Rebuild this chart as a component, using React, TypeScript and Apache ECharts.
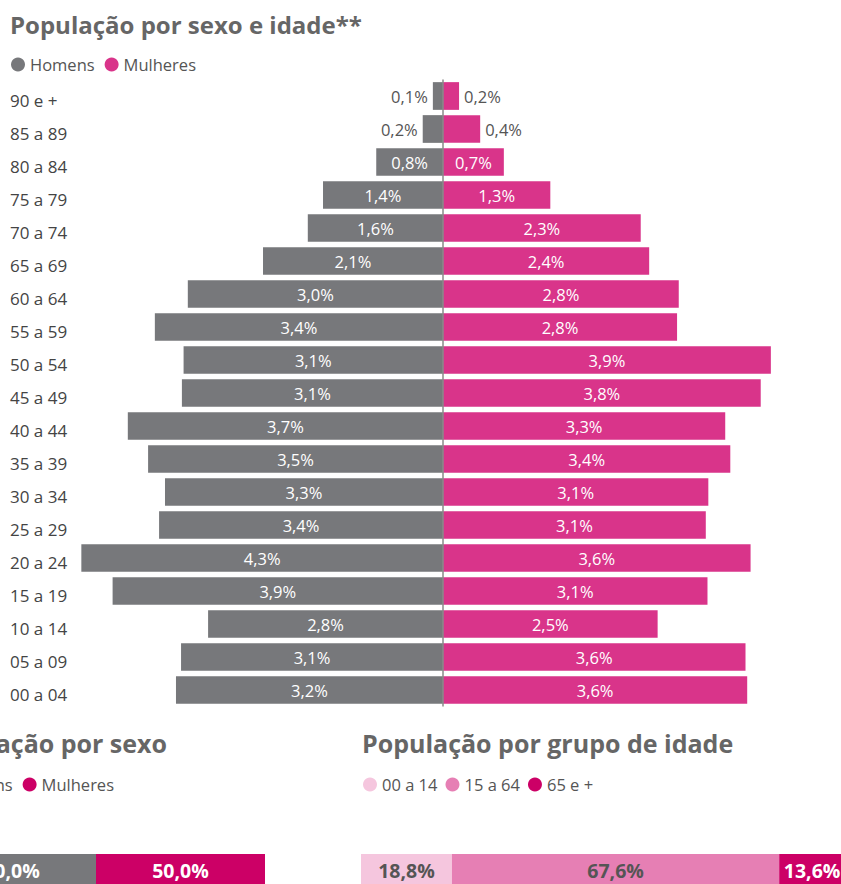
import React, { useEffect, useRef } from "react";
import * as echarts from "echarts";

const ageGroups = [
  "90 e +", "85 a 89", "80 a 84", "75 a 79", "70 a 74", "65 a 69", "60 a 64",
  "55 a 59", "50 a 54", "45 a 49", "40 a 44", "35 a 39", "30 a 34", "25 a 29",
  "20 a 24", "15 a 19", "10 a 14", "05 a 09", "00 a 04",
];
const menValues = [
  0.12, 0.24, 0.79, 1.42, 1.6, 2.13, 3.02, 3.41, 3.07, 3.09, 3.73, 3.49, 3.29,
  3.36, 4.28, 3.91, 2.78, 3.1, 3.16,
];
const womenValues = [
  0.19, 0.44, 0.72, 1.27, 2.34, 2.44, 2.79, 2.77, 3.88, 3.76, 3.34, 3.4, 3.14,
  3.11, 3.64, 3.13, 2.54, 3.58, 3.6,
];
const sexNames = ["Homens", "Mulheres"];
const sexShares = [50.0, 50.0];
const ageBands = ["00 a 14", "15 a 64", "65 e +"];
const ageBandShares = [18.8, 67.6, 13.6];

const FONT = "'Open Sans', 'Noto Sans', sans-serif";
const GRAY = "#77787b";
const PINK = "#d9348a";
const MAGENTA = "#cc0066";
const LIGHT_PINK = "#f5c6de";
const MID_PINK = "#e67fb4";
const TITLE_COLOR = "#666666";
const TEXT_COLOR = "#555555";

const OX = 200; // inner canvas is shifted left by this amount
const W = 1061;
const H = 910;

const fmt = (v: number) => Math.abs(v).toFixed(1).replace(".", ",") + "%";

export default function App() {
  const ref = useRef<HTMLDivElement>(null);

  useEffect(() => {
    document.body.style.margin = "0";
    if (!ref.current) return;
    const chart = echarts.init(ref.current, undefined, { renderer: "svg" });

    const titleStyle = (size: number) => ({
      fontSize: size,
      fontWeight: "bold" as const,
      color: TITLE_COLOR,
      fontFamily: FONT,
    });
    const legendText = { fontSize: 16.5, color: TEXT_COLOR, fontFamily: FONT };

    const pyramidLabel = {
      show: true,
      position: "inside" as const,
      color: "#ffffff",
      fontSize: 16.5,
      fontFamily: FONT,
      formatter: (p: any) => fmt(p.value),
    };

    const menData = menValues.map((v) =>
      v < 0.5
        ? { value: -v, label: { position: "left", color: TEXT_COLOR } }
        : { value: -v }
    );
    const womenData = womenValues.map((v) =>
      v < 0.5
        ? { value: v, label: { position: "right", color: TEXT_COLOR } }
        : { value: v }
    );

    const gridLeft = 262.75;
    const pxPerUnit = 84.5;
    const half = 4.5;
    const gridRight = W - (gridLeft + 2 * half * pxPerUnit);

    const bottomLabel = (color: string) => ({
      show: true,
      position: "inside" as const,
      color,
      fontSize: 19.5,
      fontWeight: "bold" as const,
      fontFamily: FONT,
      formatter: (p: any) => fmt(p.value),
    });

    const sexColors = [GRAY, MAGENTA];
    const ageColors = [LIGHT_PINK, MID_PINK, MAGENTA];
    const ageLabelColors = [TEXT_COLOR, TEXT_COLOR, "#ffffff"];

    const legendBase = {
      icon: "circle",
      itemWidth: 14,
      itemHeight: 14,
      padding: 0,
      textStyle: legendText,
      selectedMode: false,
    };

    chart.setOption({
      animation: false,
      title: [
        { text: "População por sexo e idade**", left: 10 + OX, top: 12, padding: 0, textStyle: titleStyle(24) },
        { text: "População por sexo", right: W - (167 + OX), top: 730, padding: 0, textStyle: titleStyle(25) },
        { text: "População por grupo de idade", left: 362 + OX, top: 730, padding: 0, textStyle: titleStyle(25) },
      ],
      legend: [
        { ...legendBase, left: 11 + OX, top: 56, itemGap: 10, data: ["Homens", "Mulheres"] },
        {
          ...legendBase,
          right: W - (114 + OX),
          top: 776,
          itemGap: 10,
          data: sexNames.map((n, i) => ({ name: n, itemStyle: { color: sexColors[i] } })),
        },
        { ...legendBase, left: 363 + OX, top: 776, itemGap: 8, data: ageBands },
      ],
      grid: [
        { left: gridLeft, right: gridRight, top: 79.5, height: 627 },
        { left: -73 + OX, width: 338, top: 854, height: 32 },
        { left: 361 + OX, width: 484, top: 854, height: 32 },
      ],
      xAxis: [
        { type: "value", gridIndex: 0, min: -half, max: half, show: false },
        { type: "value", gridIndex: 1, min: 0, max: 100, show: false },
        { type: "value", gridIndex: 2, min: 0, max: 100, show: false },
      ],
      yAxis: [
        {
          type: "category",
          gridIndex: 0,
          data: ageGroups,
          inverse: true,
          axisLine: { show: false, onZero: false },
          axisTick: { show: false },
          axisLabel: {
            align: "left",
            verticalAlign: "top",
            lineHeight: 8,
            margin: gridLeft - (10 + OX),
            fontSize: 17,
            color: "#444444",
            fontFamily: FONT,
          },
        },
        { type: "category", gridIndex: 1, data: ["Sexo"], show: false },
        { type: "category", gridIndex: 2, data: ["Idade"], show: false },
      ],
      series: [
        {
          name: "Homens",
          type: "bar",
          xAxisIndex: 0,
          yAxisIndex: 0,
          data: menData,
          barGap: "-100%",
          barCategoryGap: "16%",
          itemStyle: { color: GRAY },
          label: pyramidLabel,
        },
        {
          name: "Mulheres",
          type: "bar",
          xAxisIndex: 0,
          yAxisIndex: 0,
          data: womenData,
          barGap: "-100%",
          barCategoryGap: "16%",
          itemStyle: { color: PINK },
          label: pyramidLabel,
          markLine: {
            silent: true,
            symbol: "none",
            label: { show: false },
            lineStyle: { color: "#8a8a8a", width: 1.5, type: "solid" },
            data: [{ xAxis: 0 }],
          },
        },
        ...sexNames.map((n, i) => ({
          name: n,
          type: "bar",
          xAxisIndex: 1,
          yAxisIndex: 1,
          stack: "sexo",
          barWidth: 32,
          data: [sexShares[i]],
          itemStyle: { color: sexColors[i] },
          label: bottomLabel("#ffffff"),
        })),
        ...ageBands.map((n, i) => ({
          name: n,
          type: "bar",
          xAxisIndex: 2,
          yAxisIndex: 2,
          stack: "idade",
          barWidth: 32,
          data: [ageBandShares[i]],
          itemStyle: { color: ageColors[i] },
          label: bottomLabel(ageLabelColors[i]),
        })),
      ],
    });

    return () => chart.dispose();
  }, []);

  return (
    <div style={{ width: 841, height: 884, overflow: "hidden", position: "relative", background: "#fff" }}>
      <div ref={ref} style={{ position: "absolute", left: -OX, top: 0, width: W, height: H }} />
    </div>
  );
}
